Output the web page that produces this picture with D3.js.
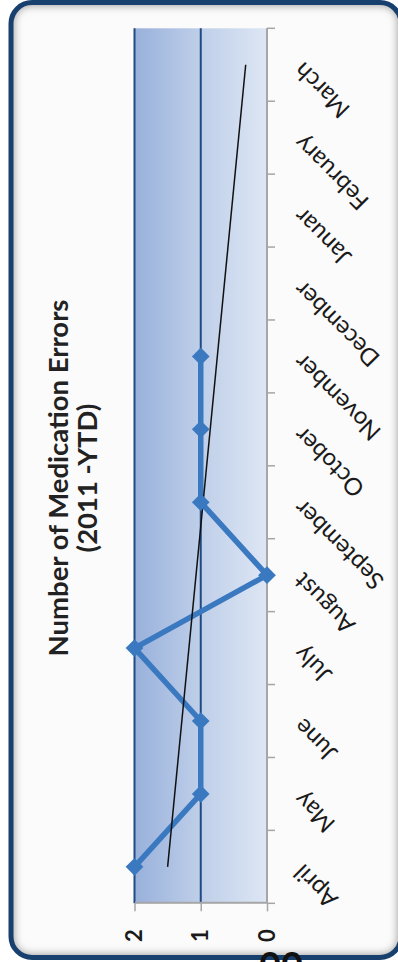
<!DOCTYPE html>
<html>
<head>
<meta charset="utf-8">
<script src="https://cdn.jsdelivr.net/npm/d3@7"></script>
<style>
  html, body { margin: 0; padding: 0; background: #ffffff; }
  svg { display: block; }
  text { font-family: Lato, "Open Sans", sans-serif; }
</style>
</head>
<body>
<svg id="chart" width="398" height="962"></svg>
<script>
// Monthly medication errors, April 2011 onward (year to date)
const months = ["April", "May", "June", "July", "August", "September",
                "October", "November", "December", "Januar", "February", "March"];
const errors = [2, 1, 1, 2, 0, 1, 1, 1];
const valueTicks = [0, 1, 2];
const titleLines = ["Number of Medication Errors", "(2011 -YTD)"];

const svg = d3.select("#chart");
const defs = svg.append("defs");

// Panel frame with a soft inner shadow
const frame = { x: 11, y: 2.5, w: 390, h: 955, r: 21 };
defs.append("clipPath").attr("id", "frameClip")
  .append("rect")
  .attr("x", frame.x).attr("y", frame.y)
  .attr("width", frame.w).attr("height", frame.h)
  .attr("rx", frame.r);
defs.append("filter").attr("id", "soft")
  .attr("x", "-10%").attr("y", "-10%").attr("width", "120%").attr("height", "120%")
  .append("feGaussianBlur").attr("stdDeviation", 4);

svg.append("rect")
  .attr("x", frame.x).attr("y", frame.y)
  .attr("width", frame.w).attr("height", frame.h)
  .attr("rx", frame.r)
  .attr("fill", "#fbfbfb");
svg.append("g").attr("clip-path", "url(#frameClip)")
  .append("rect")
  .attr("x", frame.x - 2).attr("y", frame.y - 2)
  .attr("width", frame.w + 4).attr("height", frame.h + 4)
  .attr("rx", frame.r)
  .attr("fill", "none")
  .attr("stroke", "#9a9a9a")
  .attr("stroke-width", 10)
  .attr("filter", "url(#soft)");

// Title, read bottom to top
const title = svg.append("text")
  .attr("transform", "translate(68,478) rotate(-90)")
  .attr("text-anchor", "middle")
  .attr("font-weight", "bold")
  .attr("font-size", 27.5)
  .attr("fill", "#222");
title.selectAll("tspan").data(titleLines).join("tspan")
  .attr("x", 0)
  .attr("dy", (d, i) => i === 0 ? 0 : 29)
  .text(d => d);

// The chart is laid out landscape, then turned a quarter turn
const W = 875, H = 132.5;
const plot = svg.append("g")
  .attr("transform", "translate(134.5,903.3) rotate(-90)");

const x = d3.scaleBand().domain(months).range([0, W]);
const y = d3.scaleLinear().domain([0, 2]).range([H, 0]);

const grad = defs.append("linearGradient").attr("id", "plotFill")
  .attr("x1", 0).attr("y1", 0).attr("x2", 0).attr("y2", 1);
grad.append("stop").attr("offset", 0).attr("stop-color", "#98b0db");
grad.append("stop").attr("offset", 0.5).attr("stop-color", "#bfcfe9");
grad.append("stop").attr("offset", 1).attr("stop-color", "#dde6f4");

plot.append("rect")
  .attr("x", 0).attr("y", 0)
  .attr("width", W).attr("height", H)
  .attr("fill", "url(#plotFill)");

// Major gridlines
plot.append("g").selectAll("line")
  .data(valueTicks.filter(v => v > 0)).join("line")
  .attr("x1", 0).attr("x2", W)
  .attr("y1", d => y(d)).attr("y2", d => y(d))
  .attr("stroke", "#1f4a82")
  .attr("stroke-width", 2);

// Value axis
const yAxis = plot.append("g")
  .call(d3.axisLeft(y).tickValues(valueTicks).tickFormat(d3.format("d"))
    .tickSizeInner(8).tickSizeOuter(0).tickPadding(18));
yAxis.select(".domain").attr("stroke", "#a6a6a6").attr("stroke-width", 2);
yAxis.selectAll(".tick line").attr("stroke", "#a6a6a6").attr("stroke-width", 1.5);
yAxis.selectAll(".tick text")
  .attr("font-family", "Lato, sans-serif")
  .attr("font-size", 22)
  .attr("font-weight", "bold")
  .attr("fill", "#1a1a1a");

// Category axis, ticks between months
const catAxis = plot.append("g").attr("transform", `translate(0,${H})`);
catAxis.append("line")
  .attr("x1", 0).attr("x2", W)
  .attr("stroke", "#a6a6a6").attr("stroke-width", 2);
catAxis.selectAll("line.tick")
  .data(months.map(m => x(m)).concat([W])).join("line")
  .attr("class", "tick")
  .attr("x1", d => d).attr("x2", d => d)
  .attr("y1", 0).attr("y2", 8)
  .attr("stroke", "#a6a6a6").attr("stroke-width", 1.5);
catAxis.selectAll("text")
  .data(months).join("text")
  .attr("transform", d => `translate(${x(d) + x.bandwidth() / 2 + 4},37) rotate(-45)`)
  .attr("text-anchor", "end")
  .attr("font-size", 24)
  .attr("fill", "#1a1a1a")
  .text(d => d);

// Linear trend across the whole year
const mx = d3.mean(errors, (d, i) => i);
const my = d3.mean(errors);
const slope = d3.sum(errors, (d, i) => (i - mx) * (d - my)) /
              d3.sum(errors, (d, i) => (i - mx) * (i - mx));
const icept = my - slope * mx;
const cx = m => x(m) + x.bandwidth() / 2;
const ends = [0, months.length - 1];

// Series line and diamond markers
const pts = errors.map((v, i) => [cx(months[i]), y(v)]);
plot.append("path")
  .attr("d", d3.line()(pts))
  .attr("fill", "none")
  .attr("stroke", "#3a79c0")
  .attr("stroke-width", 5.5)
  .attr("stroke-linejoin", "round");

plot.append("path")
  .attr("d", d3.line()(ends.map(i => [cx(months[i]), y(icept + slope * i)])))
  .attr("stroke", "#111")
  .attr("stroke-width", 1.5);

plot.append("g").selectAll("path")
  .data(pts).join("path")
  .attr("transform", d => `translate(${d[0]},${d[1]})`)
  .attr("d", d3.symbol(d3.symbolDiamond2, 200)())
  .attr("fill", "#3a79c0");

// Frame border
svg.append("rect")
  .attr("x", frame.x).attr("y", frame.y)
  .attr("width", frame.w).attr("height", frame.h)
  .attr("rx", frame.r)
  .attr("fill", "none")
  .attr("stroke", "#17406f")
  .attr("stroke-width", 5);

// Page number running below the panel
svg.append("text")
  .attr("x", 259).attr("y", 980)
  .attr("font-size", 38)
  .attr("font-weight", "bold")
  .attr("fill", "#111")
  .text("00");
</script>
</body>
</html>
